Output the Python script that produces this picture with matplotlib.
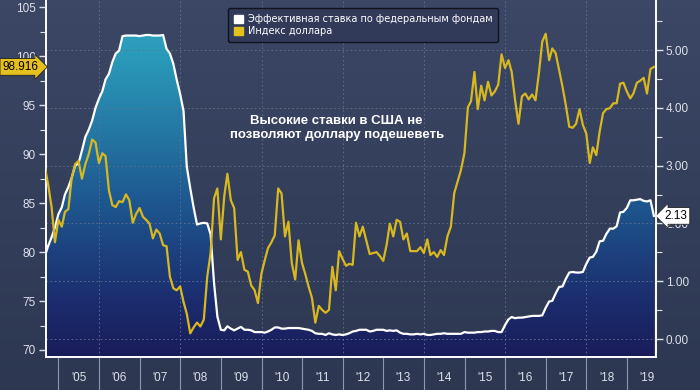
import matplotlib
matplotlib.use("Agg")
import matplotlib.pyplot as plt
import matplotlib.dates as mdates
import matplotlib.transforms as mtransforms
from matplotlib.colors import LinearSegmentedColormap
from matplotlib.patches import Patch
from matplotlib.ticker import MultipleLocator, FormatStrFormatter
import numpy as np
import pandas as pd

# month-end dates, Aug 2004 .. Aug 2019
months = pd.date_range("2004-08-31", periods=181, freq="ME")

# effective federal funds rate, %
fed_funds = [
    1.43, 1.61, 1.76, 1.93, 2.16,
    2.28, 2.50, 2.63, 2.79, 3.00, 3.04, 3.26, 3.50, 3.62, 3.78, 4.00, 4.16,
    4.29, 4.49, 4.59, 4.79, 4.94, 4.99, 5.24, 5.25, 5.25, 5.25, 5.25, 5.24,
    5.25, 5.26, 5.26, 5.25, 5.25, 5.25, 5.26, 5.02, 4.94, 4.76, 4.49, 4.24,
    3.94, 2.98, 2.61, 2.28, 1.98, 2.00, 2.01, 2.00, 1.81, 0.97, 0.39, 0.16,
    0.15, 0.22, 0.18, 0.15, 0.18, 0.21, 0.16, 0.16, 0.15, 0.12, 0.12, 0.12,
    0.11, 0.13, 0.16, 0.20, 0.20, 0.18, 0.18, 0.19, 0.19, 0.19, 0.19, 0.18,
    0.17, 0.16, 0.14, 0.10, 0.09, 0.09, 0.07, 0.10, 0.08, 0.07, 0.08, 0.07,
    0.08, 0.10, 0.13, 0.14, 0.16, 0.16, 0.16, 0.13, 0.14, 0.16, 0.16, 0.16,
    0.14, 0.15, 0.14, 0.15, 0.11, 0.09, 0.09, 0.08, 0.08, 0.09, 0.08, 0.09,
    0.07, 0.07, 0.08, 0.09, 0.09, 0.10, 0.09, 0.09, 0.09, 0.09, 0.09, 0.12,
    0.11, 0.11, 0.11, 0.12, 0.12, 0.13, 0.13, 0.14, 0.14, 0.12, 0.12, 0.24,
    0.34, 0.38, 0.36, 0.37, 0.37, 0.38, 0.39, 0.40, 0.40, 0.40, 0.41, 0.54,
    0.65, 0.66, 0.79, 0.90, 0.91, 1.04, 1.15, 1.16, 1.15, 1.15, 1.16, 1.30,
    1.41, 1.42, 1.51, 1.69, 1.70, 1.82, 1.91, 1.91, 1.95, 2.19, 2.20, 2.27,
    2.40, 2.40, 2.41, 2.42, 2.39, 2.38, 2.40, 2.13,
]

# dollar index (DXY)
dollar_index = [
    88.7, 86.9, 84.6, 81.0, 83.3, 82.6, 84.1, 84.4, 87.6, 89.0,
    89.3, 87.5, 89.0, 90.0, 91.5, 91.2, 89.1, 90.1, 89.8, 86.3,
    84.8, 84.6, 85.2, 85.1, 85.9, 85.3, 83.0, 83.9, 84.5, 83.6,
    83.3, 82.9, 81.4, 82.3, 81.9, 80.7, 80.6, 77.5, 76.3, 76.1,
    76.5, 74.9, 73.7, 71.7, 72.3, 72.8, 72.4, 73.1, 77.5, 79.9,
    85.5, 86.5, 81.3, 85.7, 88.0, 85.3, 84.5, 79.2, 80.0, 78.2,
    78.0, 76.6, 76.1, 74.8, 77.8, 79.2, 80.4, 81.0, 81.7, 86.5,
    86.0, 81.6, 83.1, 78.9, 77.2, 81.2, 78.9, 77.7, 76.5, 75.3,
    72.8, 74.5, 74.1, 73.8, 74.1, 78.5, 76.1, 80.1, 79.3, 78.6,
    78.8, 78.7, 83.0, 81.6, 82.6, 81.2, 79.8, 79.9, 80.0, 79.6,
    79.1, 80.8, 82.9, 81.6, 83.3, 83.1, 81.3, 81.9, 80.1, 80.1,
    80.1, 80.5, 79.9, 81.3, 79.7, 80.0, 79.5, 80.2, 79.7, 81.6,
    82.6, 86.0, 87.2, 88.4, 90.1, 94.8, 95.4, 98.4, 94.6, 97.0,
    95.5, 97.4, 96.0, 96.4, 97.1, 100.2, 98.8, 99.6, 98.4, 95.5,
    93.1, 95.9, 96.2, 95.6, 96.1, 95.5, 98.3, 101.5, 102.3, 99.6,
    100.8, 100.3, 98.6, 96.9, 95.0, 92.8, 92.7, 93.1, 94.6, 93.0,
    92.1, 89.1, 90.7, 89.9, 92.3, 94.2, 94.6, 94.7, 95.2, 95.2,
    97.2, 97.3, 96.4, 95.7, 96.2, 97.3, 97.5, 97.8, 96.2, 98.7,
    98.916,
]

years = list(range(2005, 2020))
year_labels = ["'%02d" % (y % 100) for y in years]

legend_labels = ["Эффективная ставка по федеральным фондам", "Индекс доллара"]
note = "Высокие ставки в США не\nпозволяют доллару подешеветь"

yellow = "#d8b820"
tick_col = "#dde1ea"
grid_col = "#627190"

fig = plt.figure(figsize=(7, 3.9), dpi=100)

# background gradient of the whole figure
bg = fig.add_axes([0, 0, 1, 1], zorder=-10)
bg.imshow(np.linspace(0, 1, 64).reshape(-1, 1), aspect="auto", origin="lower",
          extent=[0, 1, 0, 1],
          cmap=LinearSegmentedColormap.from_list("bg", ["#2d3752", "#3b4765"]))
bg.axis("off")

pos = [45.7 / 700, 33 / 390, 610.3 / 700, 357 / 390]
ax2 = fig.add_axes(pos)
ax = fig.add_axes(pos, sharex=ax2)
ax.patch.set_visible(False)
ax2.patch.set_visible(False)

x_lo = pd.Timestamp("2004-09-08")
x_hi = pd.Timestamp("2019-09-19")
r_lo, r_hi = -0.311, 5.865

# fed funds: gradient fill under the line
fill_cmap = LinearSegmentedColormap.from_list(
    "fill", [(0, "#1a1c5a"), (0.16, "#1b2d6e"), (0.44, "#1e5890"),
             (0.83, "#2a98b8"), (1, "#31abc6")])
poly = ax2.fill_between(months, fed_funds, -1, facecolor="none", lw=0)
grad = ax2.imshow(np.linspace(0, 1, 256).reshape(-1, 1), cmap=fill_cmap,
                  aspect="auto", origin="lower", zorder=1,
                  extent=[mdates.date2num(x_lo), mdates.date2num(x_hi), r_lo, r_hi])
grad.set_clip_path(poly.get_paths()[0], transform=ax2.transData)
ax2.plot(months, fed_funds, color="white", lw=1.6, zorder=3)

# grid
ax2.set_axisbelow(False)
ax2.grid(axis="y", color=grid_col, ls=(0, (2, 3)), lw=0.6)
for y in years[1::2]:
    ax2.axvline(pd.Timestamp(f"{y}-01-01"), color=grid_col, ls=(0, (2, 3)), lw=0.6, zorder=2)

# dollar index
ax.plot(months, dollar_index, color=yellow, lw=1.6, zorder=3)

ax2.set_xlim(x_lo, x_hi)
ax2.set_ylim(r_lo, r_hi)
ax.set_ylim(69.285, 105.75)

# left axis
ax.set_yticks(range(70, 106, 5))
ax.yaxis.set_minor_locator(MultipleLocator(2.5))
ax.tick_params(axis="y", which="major", colors=tick_col, labelsize=8.5, length=5, width=1, pad=2)
ax.tick_params(axis="y", which="minor", colors=tick_col, length=4, width=0.8)
for lab in ax.get_yticklabels():
    lab.set_fontfamily("Liberation Sans")

# right axis
ax2.yaxis.tick_right()
ax2.set_yticks(range(0, 6))
ax2.yaxis.set_minor_locator(MultipleLocator(0.5))
ax2.yaxis.set_major_formatter(FormatStrFormatter("%.2f"))
ax2.tick_params(axis="y", which="major", colors=tick_col, labelsize=8.5, length=5, width=1, pad=2)
ax2.tick_params(axis="y", which="minor", colors=tick_col, length=4, width=0.8)
for lab in ax2.get_yticklabels():
    lab.set_fontfamily("Liberation Sans")

# x axis: year separators and mid-year labels
ax2.xaxis.set_visible(False)
ax.set_xticks([pd.Timestamp(f"{y}-01-01") for y in years])
ax.set_xticklabels([])
ax.set_xticks([pd.Timestamp(f"{y}-07-01") for y in years], minor=True)
ax.set_xticklabels(year_labels, minor=True)
ax.tick_params(axis="x", which="major", length=24, color="#8d96aa", width=0.8)
ax.tick_params(axis="x", which="minor", length=0, pad=11, labelsize=8.5, labelcolor=tick_col)
for lab in ax.get_xticklabels(minor=True):
    lab.set_fontfamily("Liberation Sans")

for a in (ax, ax2):
    a.spines["top"].set_visible(False)
    for s in ("left", "right", "bottom"):
        a.spines[s].set_color("white")
        a.spines[s].set_linewidth(1.2)

# last value tags (they sit on top of the nearby tick labels, as in the original)
left_tr = mtransforms.blended_transform_factory(ax.transAxes, ax.transData)
ax.text(-0.012, dollar_index[-1], f"{dollar_index[-1]:.3f}", transform=left_tr,
        ha="right", va="center", fontsize=8.5, family="Liberation Sans", color="black",
        bbox=dict(boxstyle="rarrow,pad=0.2", fc="#e6c01c", ec="#222222", lw=0.6), zorder=5)
right_tr = mtransforms.blended_transform_factory(ax2.transAxes, ax2.transData)
ax2.text(1.014, fed_funds[-1], f"{fed_funds[-1]:.2f}", transform=right_tr,
         ha="left", va="center", fontsize=8.5, family="Liberation Sans", color="black",
         bbox=dict(boxstyle="larrow,pad=0.2", fc="white", ec="#222222", lw=0.6), zorder=5)

# legend
leg = fig.legend(handles=[Patch(fc="white", ec="white"), Patch(fc="#e2c11a", ec="#e2c11a")],
                 labels=legend_labels, loc="upper left", bbox_to_anchor=(0.326, 0.979),
                 fontsize=7, labelcolor="white", facecolor="#313b59", edgecolor="#10131d",
                 framealpha=1, handlelength=0.9, handleheight=0.9, handletextpad=0.5,
                 borderpad=0.6, labelspacing=0.25, borderaxespad=0)
leg.get_frame().set_linewidth(1.0)

fig.text(0.481, 0.672, note, ha="center", va="center", color="white",
         fontsize=9.5, fontweight="bold", family="Liberation Sans", linespacing=1.25)

fig.savefig("out.png", dpi=100)
